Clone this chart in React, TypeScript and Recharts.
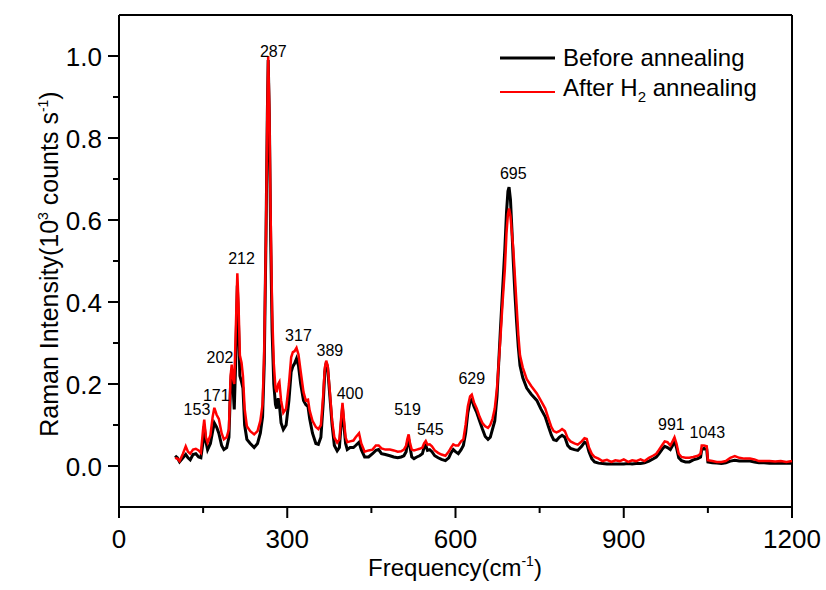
import React from 'react'
import {
  LineChart,
  Line,
  XAxis,
  YAxis,
  ReferenceLine,
  ReferenceDot,
  Legend,
} from 'recharts'

// Raman shift (cm-1) and intensities
const freq = [
  100, 104, 108, 114, 119, 123, 127, 132, 137, 142, 146, 150, 152, 155, 158, 163, 167, 170, 174, 178,
  183, 187, 192, 196, 199, 201, 203, 205.5, 208, 211, 213, 215.5, 218.5, 221, 224, 228, 234, 241, 247, 252,
  256, 259, 262, 264.5, 266, 268, 270.5, 273, 276, 279, 281, 284, 286, 289, 293, 298, 303, 307, 310, 313,
  316.5, 320, 324, 329, 333, 337, 340, 345, 351, 355.5, 360, 364, 367, 369.5, 372, 376, 380, 384, 389, 393,
  396, 398.5, 401, 404, 407, 412, 418, 422, 428, 432, 438, 445, 452, 458, 463, 468, 475, 483, 490, 497,
  503, 508, 512, 514, 516.5, 519, 522, 526, 531, 536, 541, 544, 547, 550, 554, 558, 563, 569, 575, 582,
  588, 592, 596, 600, 605, 610, 614, 618, 622, 626, 629, 633, 638, 643, 648, 653, 658, 662, 666, 670,
  674, 677, 680, 684, 688, 691, 693.5, 695.5, 698, 700.5, 703, 706, 709, 712, 715, 720, 727, 735, 745, 752,
  760, 766, 771, 775, 780, 785, 790, 795, 800, 805, 812, 818, 825, 830, 834, 838, 843, 848, 855, 862,
  870, 878, 885, 893, 900, 908, 915, 922, 930, 937, 945, 952, 958, 963, 968, 973, 978, 983, 987, 990.5,
  994, 998, 1003, 1010, 1017, 1024, 1032, 1037, 1039, 1043, 1048, 1050, 1058, 1066, 1074, 1082, 1090, 1098, 1106, 1115,
  1125, 1133, 1141, 1150, 1160, 1170, 1180, 1190, 1200,
]

const before = [
  0.025, 0.02, 0.01, 0.02, 0.028, 0.02, 0.015, 0.028, 0.03, 0.022, 0.02, 0.06, 0.097, 0.06, 0.04, 0.055, 0.085, 0.105, 0.095, 0.08,
  0.05, 0.04, 0.045, 0.07, 0.2, 0.235, 0.2, 0.138, 0.25, 0.44, 0.35, 0.22, 0.205, 0.19, 0.1, 0.065, 0.055, 0.045, 0.055, 0.08,
  0.12, 0.25, 0.55, 0.86, 0.99, 0.86, 0.55, 0.33, 0.2, 0.15, 0.14, 0.165, 0.15, 0.105, 0.089, 0.1, 0.16, 0.23, 0.243, 0.25,
  0.262, 0.245, 0.2, 0.16, 0.15, 0.145, 0.115, 0.08, 0.055, 0.053, 0.07, 0.15, 0.23, 0.252, 0.24, 0.17, 0.1, 0.05, 0.037, 0.045,
  0.1, 0.142, 0.1, 0.055, 0.04, 0.045, 0.045, 0.05, 0.058, 0.04, 0.022, 0.022, 0.03, 0.038, 0.04, 0.03, 0.028, 0.025, 0.022, 0.02,
  0.022, 0.025, 0.035, 0.055, 0.065, 0.045, 0.022, 0.018, 0.022, 0.025, 0.03, 0.045, 0.05, 0.038, 0.04, 0.035, 0.025, 0.02, 0.016, 0.013,
  0.02, 0.032, 0.04, 0.035, 0.03, 0.04, 0.05, 0.08, 0.13, 0.158, 0.162, 0.145, 0.13, 0.11, 0.09, 0.072, 0.065, 0.07, 0.09, 0.11,
  0.17, 0.25, 0.33, 0.43, 0.53, 0.62, 0.67, 0.68, 0.65, 0.58, 0.5, 0.42, 0.35, 0.29, 0.245, 0.215, 0.19, 0.175, 0.16, 0.14,
  0.12, 0.095, 0.075, 0.064, 0.062, 0.07, 0.075, 0.07, 0.05, 0.043, 0.04, 0.038, 0.048, 0.058, 0.055, 0.035, 0.018, 0.01, 0.007, 0.006,
  0.005, 0.005, 0.005, 0.005, 0.005, 0.006, 0.005, 0.006, 0.006, 0.008, 0.012, 0.017, 0.022, 0.03, 0.04, 0.048, 0.045, 0.04, 0.05, 0.062,
  0.045, 0.02, 0.013, 0.01, 0.01, 0.015, 0.018, 0.022, 0.04, 0.043, 0.04, 0.01, 0.008, 0.007, 0.006, 0.008, 0.012, 0.014, 0.012, 0.012,
  0.012, 0.01, 0.008, 0.008, 0.007, 0.007, 0.007, 0.007, 0.007,
]

const after = [
  0.02, 0.018, 0.012, 0.03, 0.048, 0.035, 0.03, 0.04, 0.042, 0.038, 0.032, 0.09, 0.113, 0.07, 0.057, 0.075, 0.12, 0.142, 0.125, 0.115,
  0.08, 0.065, 0.07, 0.09, 0.22, 0.247, 0.215, 0.2, 0.32, 0.47, 0.4, 0.27, 0.252, 0.22, 0.14, 0.097, 0.085, 0.077, 0.085, 0.11,
  0.15, 0.28, 0.56, 0.87, 1.0, 0.88, 0.6, 0.38, 0.25, 0.19, 0.18, 0.2, 0.205, 0.16, 0.13, 0.14, 0.2, 0.265, 0.278, 0.28,
  0.288, 0.272, 0.23, 0.18, 0.16, 0.162, 0.135, 0.11, 0.095, 0.09, 0.1, 0.17, 0.24, 0.257, 0.245, 0.18, 0.11, 0.07, 0.057, 0.065,
  0.115, 0.154, 0.115, 0.07, 0.058, 0.06, 0.062, 0.07, 0.08, 0.055, 0.035, 0.038, 0.04, 0.05, 0.05, 0.043, 0.04, 0.04, 0.038, 0.035,
  0.036, 0.04, 0.05, 0.065, 0.077, 0.055, 0.04, 0.038, 0.04, 0.042, 0.045, 0.055, 0.061, 0.052, 0.053, 0.048, 0.038, 0.032, 0.028, 0.025,
  0.035, 0.045, 0.053, 0.05, 0.05, 0.06, 0.065, 0.1, 0.145, 0.17, 0.174, 0.155, 0.14, 0.12, 0.105, 0.097, 0.093, 0.1, 0.115, 0.14,
  0.19, 0.25, 0.31, 0.4, 0.48, 0.57, 0.615, 0.628, 0.61, 0.57, 0.53, 0.46, 0.39, 0.32, 0.27, 0.24, 0.212, 0.195, 0.177, 0.16,
  0.14, 0.115, 0.095, 0.085, 0.082, 0.085, 0.09, 0.085, 0.068, 0.06, 0.055, 0.052, 0.06, 0.068, 0.066, 0.045, 0.03, 0.022, 0.018, 0.012,
  0.015, 0.01, 0.014, 0.012, 0.016, 0.01, 0.014, 0.012, 0.016, 0.012, 0.02, 0.025, 0.03, 0.04, 0.05, 0.06, 0.058, 0.05, 0.06, 0.07,
  0.055, 0.03, 0.022, 0.02, 0.02, 0.022, 0.025, 0.03, 0.05, 0.05, 0.048, 0.014, 0.012, 0.01, 0.01, 0.012, 0.02, 0.024, 0.02, 0.018,
  0.018, 0.016, 0.012, 0.012, 0.012, 0.011, 0.012, 0.01, 0.012,
]

// peak annotations: text, and the spot (freq, intensity) where the text sits
const peakNames = ['153', '171', '202', '212', '287', '317', '389', '400', '519', '545', '629', '695', '991', '1043']
const peakLabelX = [139, 173.5, 180, 218.5, 275, 320, 376, 412, 514.5, 555, 629, 703, 985, 1049]
const peakLabelY = [0.138, 0.172, 0.266, 0.506, 1.012, 0.318, 0.282, 0.178, 0.139, 0.089, 0.215, 0.713, 0.101, 0.083]

const xMajor = [0, 300, 600, 900, 1200]
const xMinor = [150, 450, 750, 1050]
const yMajor = [0, 0.2, 0.4, 0.6, 0.8, 1.0]
const yMinor = [0.1, 0.3, 0.5, 0.7, 0.9]

const data = freq.map((f, i) => ({ freq: f, before: before[i], after: after[i] }))

const FONT = '"Liberation Sans", Arial, sans-serif'

// eslint-disable-next-line @typescript-eslint/no-explicit-any
const XTick = (props: any) => {
  const { x, y, payload } = props
  const major = xMajor.includes(payload.value)
  return (
    <g>
      <line x1={x} y1={y} x2={x} y2={y + (major ? 11 : 6)} stroke="#000" strokeWidth={2} />
      {major && (
        <text x={x} y={y + 41} textAnchor="middle" fontSize={26} fill="#000" fontFamily={FONT}>
          {payload.value}
        </text>
      )}
    </g>
  )
}

// eslint-disable-next-line @typescript-eslint/no-explicit-any
const YTick = (props: any) => {
  const { x, y, payload } = props
  const major = yMajor.includes(payload.value)
  return (
    <g>
      <line x1={x} y1={y} x2={x - (major ? 11 : 6)} y2={y} stroke="#000" strokeWidth={2} />
      {major && (
        <text x={x - 17} y={y + 9.5} textAnchor="end" fontSize={26} fill="#000" fontFamily={FONT}>
          {payload.value.toFixed(1)}
        </text>
      )}
    </g>
  )
}

const LegendBox = () => (
  <div style={{ fontFamily: FONT, fontSize: 24, color: '#000', lineHeight: '30px' }}>
    <div style={{ display: 'flex', alignItems: 'center' }}>
      <svg width={63} height={30}>
        <line x1={0} y1={15} x2={55} y2={15} stroke="#000" strokeWidth={3} />
      </svg>
      <span>Before annealing</span>
    </div>
    <div style={{ display: 'flex', alignItems: 'center' }}>
      <svg width={63} height={30}>
        <line x1={0} y1={15} x2={55} y2={15} stroke="#ff0000" strokeWidth={2} />
      </svg>
      <span>
        After H<sub style={{ fontSize: 15 }}>2</sub> annealing
      </span>
    </div>
  </div>
)

export default function App() {
  return (
    <div style={{ position: 'absolute', left: 0, top: 0, width: 826, height: 590, background: '#fff' }}>
      <LineChart
        width={826}
        height={590}
        data={data}
        margin={{ top: 15, right: 34, bottom: 0, left: 0 }}
        style={{ fontFamily: FONT }}
      >
        <XAxis
          dataKey="freq"
          type="number"
          domain={[0, 1200]}
          ticks={[...xMajor, ...xMinor].sort((a, b) => a - b)}
          interval={0}
          height={83}
          tickSize={0}
          tickMargin={0}
          tick={<XTick />}
          axisLine={{ stroke: '#000', strokeWidth: 2 }}
          label={{
            content: () => (
              <text x={455} y={576} textAnchor="middle" fontSize={24} fill="#000" fontFamily={FONT}>
                Frequency(cm
                <tspan dy={-10} fontSize={14}>-1</tspan>
                <tspan dy={10}>)</tspan>
              </text>
            ),
          }}
        />
        <YAxis
          type="number"
          domain={[-0.1, 1.1]}
          ticks={[...yMajor, ...yMinor].sort((a, b) => a - b)}
          interval={0}
          width={119}
          tickSize={0}
          tickMargin={0}
          tick={<YTick />}
          axisLine={{ stroke: '#000', strokeWidth: 2 }}
          allowDataOverflow
          label={{
            content: () => (
              <text
                x={58}
                y={264}
                transform="rotate(-90 58 264)"
                textAnchor="middle"
                fontSize={25}
                fill="#000"
                fontFamily={FONT}
              >
                Raman Intensity(10
                <tspan dy={-10} fontSize={14}>3</tspan>
                <tspan dy={10}> counts s</tspan>
                <tspan dy={-10} fontSize={14}>-1</tspan>
                <tspan dy={10}>)</tspan>
              </text>
            ),
          }}
        />
        <ReferenceLine y={1.1} stroke="#000" strokeWidth={2} ifOverflow="visible" />
        <ReferenceLine x={1200} stroke="#000" strokeWidth={2} ifOverflow="visible" />
        <Legend
          layout="vertical"
          align="center"
          verticalAlign="middle"
          content={<LegendBox />}
          wrapperStyle={{ left: 500, top: 43, width: 300, height: 64 }}
        />
        <Line
          dataKey="before"
          name="Before annealing"
          stroke="#000"
          strokeWidth={3}
          dot={false}
          type="linear"
          isAnimationActive={false}
        />
        <Line
          dataKey="after"
          name="After H2 annealing"
          stroke="#ff0000"
          strokeWidth={2.5}
          dot={false}
          type="linear"
          isAnimationActive={false}
        />
        {peakNames.map((name, i) => (
          <ReferenceDot
            key={name}
            x={peakLabelX[i]}
            y={peakLabelY[i]}
            r={0}
            fill="none"
            stroke="none"
            ifOverflow="visible"
            label={{ value: name, position: 'center', fontSize: 16, fill: '#000', fontFamily: FONT }}
          />
        ))}
      </LineChart>
    </div>
  )
}
